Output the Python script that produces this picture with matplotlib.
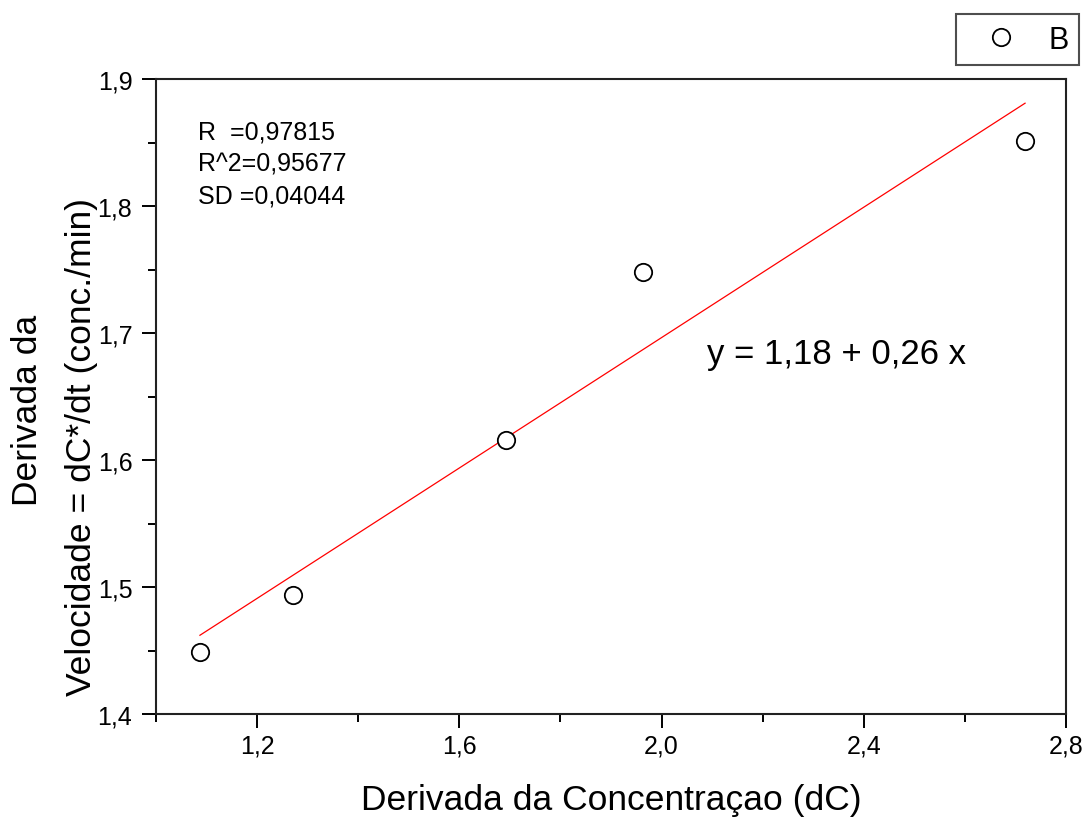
import matplotlib.pyplot as plt
import numpy as np
from matplotlib.ticker import MultipleLocator, FuncFormatter

# data
dC = [1.087, 1.271, 1.692, 1.964, 2.719]
velocidade = [1.449, 1.494, 1.616, 1.748, 1.851]

# fitted line as drawn in the figure
intercept = 1.183
slope = 0.2567

stats_lines = ["R  =0,97815", "R^2=0,95677", "SD =0,04044"]
equation = "y = 1,18 + 0,26 x"

plt.rcParams['font.family'] = ['Liberation Sans', 'DejaVu Sans']

fig = plt.figure(figsize=(10.86, 8.2), dpi=100)
ax = fig.add_axes([0.1436, 0.128, 0.838, 0.7744])

fit_x = np.array([dC[0], dC[-1]])
ax.plot(fit_x, intercept + slope * fit_x, color="red", linewidth=0.9)
ax.plot(dC, velocidade, "o", markersize=12.5, markerfacecolor="white",
        markeredgecolor="black", markeredgewidth=1.3, linestyle="none", label="B")

ax.set_xlim(1.0, 2.8)
ax.set_ylim(1.4, 1.9)
ax.xaxis.set_minor_locator(MultipleLocator(0.2))
ax.yaxis.set_major_locator(MultipleLocator(0.1))
ax.yaxis.set_minor_locator(MultipleLocator(0.05))
# no label at the 1,0 corner
ax.set_xticks([1.2, 1.6, 2.0, 2.4, 2.8])

comma = FuncFormatter(lambda v, p: f"{v:.1f}".replace(".", ","))
ax.xaxis.set_major_formatter(comma)
ax.yaxis.set_major_formatter(comma)

ax.tick_params(which="major", direction="out", length=10, width=1.4, labelsize=18)
ax.tick_params(which="minor", direction="out", length=5.5, width=1.4)
ax.tick_params(axis="x", which="major", pad=4)
ax.tick_params(axis="y", which="major", pad=7)
for s in ax.spines.values():
    s.set_linewidth(1.5)
    s.set_color("#222222")

ax.set_xlabel("Derivada da Concentraçao (dC)", fontsize=25.5)
ax.xaxis.set_label_coords(0.5, -0.134)
ax.xaxis.label.set_va("center")

# the two y label lines are placed separately, like in the original
fig.text(28 / 1086, 1 - 410 / 820, "Derivada da", rotation=90, fontsize=25.5,
         ha="center", va="center")
fig.text(82 / 1086, 1 - 447 / 820, "Velocidade = dC*/dt (conc./min)", rotation=90,
         fontsize=25.5, ha="center", va="center")

for i, line in enumerate(stats_lines):
    ax.text(0.046, 0.918 - i * 0.0504, line, transform=ax.transAxes,
            fontsize=18, va="center", ha="left")

ax.text(0.605, 0.568, equation, transform=ax.transAxes, fontsize=25,
        va="center", ha="left")

leg = ax.legend(loc="upper right", bbox_to_anchor=(1079 / 1086, 1 - 15 / 820),
                bbox_transform=fig.transFigure, borderaxespad=0,
                fontsize=22, frameon=True, fancybox=False, handletextpad=0.45,
                borderpad=0.35, handlelength=2.2)
leg.get_frame().set_edgecolor("#222222")
leg.get_frame().set_linewidth(1.5)

plt.savefig("out.png", dpi=100)
